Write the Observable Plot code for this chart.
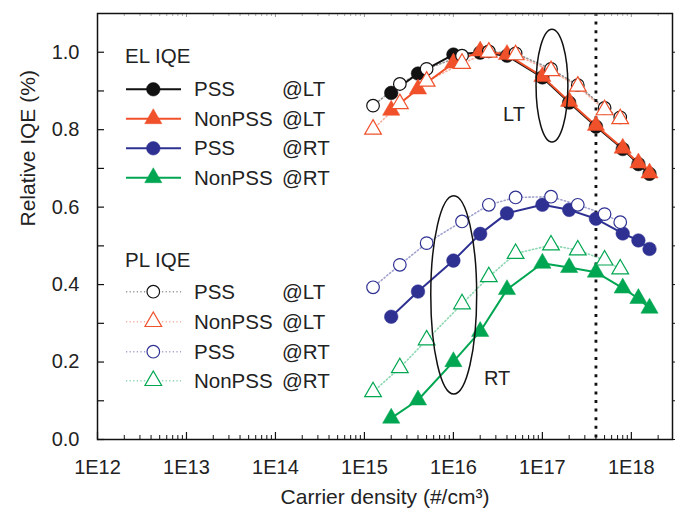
<!DOCTYPE html>
<html>
<head>
<meta charset="utf-8">
<script src="https://cdn.jsdelivr.net/npm/d3@7"></script>
<script src="https://cdn.jsdelivr.net/npm/@observablehq/plot@0.6"></script>
<style>
  html, body { margin: 0; padding: 0; background: #fff; }
  #wrap { position: relative; width: 681px; height: 511px; }
  #wrap svg { display: block; }
  #legend { position: absolute; left: 0; top: 0; pointer-events: none; }
</style>
</head>
<body>
<div id="wrap"></div>
<script>
// ---------- data ----------
const elX = [2e15, 4e15, 1e16, 2e16, 4e16, 1e17, 2e17, 4e17, 8e17, 1.2e18, 1.6e18];
const elPssLT = [0.895, 0.945, 0.994, 0.999, 0.991, 0.935, 0.870, 0.808, 0.750, 0.711, 0.686];
const elNonLT = [0.850, 0.905, 0.972, 1.003, 0.994, 0.937, 0.873, 0.811, 0.752, 0.714, 0.688];
const elPssRT = [0.317, 0.382, 0.462, 0.531, 0.584, 0.606, 0.593, 0.570, 0.532, 0.514, 0.492];
const elNonRT = [0.055, 0.102, 0.201, 0.279, 0.387, 0.455, 0.444, 0.432, 0.391, 0.364, 0.339];

const plX = [1.25e15, 2.5e15, 5e15, 1.25e16, 2.5e16, 5e16, 1.25e17, 2.5e17, 5e17, 7.5e17];
const plPssLT = [0.862, 0.918, 0.957, 0.991, 1.002, 0.997, 0.957, 0.915, 0.856, 0.832];
const plNonLT = [0.801, 0.867, 0.925, 0.971, 1.000, 0.993, 0.952, 0.912, 0.851, 0.828];
const plPssRT = [0.393, 0.451, 0.507, 0.563, 0.606, 0.625, 0.627, 0.606, 0.582, 0.561];
const plNonRT = [0.123, 0.185, 0.257, 0.350, 0.420, 0.480, 0.502, 0.489, 0.463, 0.440];

const xTickValues = [1e12, 1e13, 1e14, 1e15, 1e16, 1e17, 1e18];
const xTickLabels = ["1E12", "1E13", "1E14", "1E15", "1E16", "1E17", "1E18"];
const yTickValues = [0, 0.2, 0.4, 0.6, 0.8, 1.0];
const yTickLabels = ["0.0", "0.2", "0.4", "0.6", "0.8", "1.0"];
const yMinorValues = [0, 0.1, 0.2, 0.3, 0.4, 0.5, 0.6, 0.7, 0.8, 0.9, 1.0];

const seriesNames = ["PSS", "NonPSS", "PSS", "NonPSS"];
const seriesTemps = ["@LT", "@LT", "@RT", "@RT"];
const groupTitles = ["EL IQE", "PL IQE"];
const markerLine = 4e17;                    // vertical dotted reference line
const annotLabels = ["LT", "RT"];
const annotX = [4.8e16, 3.1e16];
const annotY = [0.839, 0.157];
// ellipse annotations: data-space extents
const ellX0 = [8.6e16, 5.64e15], ellX1 = [1.96e17, 1.85e16];
const ellY0 = [0.767, 0.116], ellY1 = [1.058, 0.628];

const xTitle = "Carrier density (#/cm³)";
const yTitle = "Relative IQE (%)";

// ---------- styles ----------
const colors = ["#111111", "#f0502a", "#2e3192", "#00a651"];
const symbols = ["circle", "triangle", "circle", "triangle"];
const elValues = [elPssLT, elNonLT, elPssRT, elNonRT];
const plValues = [plPssLT, plNonLT, plPssRT, plNonRT];

const W = 681, H = 511;
const mL = 97, mR = 9, mT = 13, mB = 72;
const FW = W - mL - mR, FH = H - mT - mB;
const rFilled = {circle: 6.8, triangle: 6.4};
const rOpen = {circle: 6.3, triangle: 6.2};

const rows = (xs, vals) => xs.map((x, i) => ({x, y: vals[i]}));

const xMinor = [];
for (const d of xTickValues) for (let k = 2; k <= 9; k++) if (d * k <= 2.9e18) xMinor.push(d * k);

const marks = [];
// PL dotted lines
plValues.forEach((v, s) => {
  marks.push(Plot.line(rows(plX, v), {x: "x", y: "y", stroke: colors[s], strokeWidth: 1.6,
    strokeOpacity: 0.45, strokeDasharray: "1.2,2.4"}));
});
// vertical dotted line
marks.push(Plot.ruleX([markerLine], {stroke: "#111", strokeWidth: 2.8, strokeDasharray: "3,5.6"}));
// EL solid lines
elValues.forEach((v, s) => {
  marks.push(Plot.line(rows(elX, v), {x: "x", y: "y", stroke: colors[s], strokeWidth: 2}));
});
// EL filled markers
elValues.forEach((v, s) => {
  marks.push(Plot.dot(rows(elX, v), {x: "x", y: "y", symbol: symbols[s], r: rFilled[symbols[s]],
    fill: colors[s], stroke: colors[s], strokeWidth: 0.5}));
});
// PL open markers
plValues.forEach((v, s) => {
  marks.push(Plot.dot(rows(plX, v), {x: "x", y: "y", symbol: symbols[s], r: rOpen[symbols[s]],
    fill: "white", stroke: colors[s], strokeWidth: 1.2}));
});
// ellipses
marks.push((index, scales) => {
  const g = d3.create("svg:g").attr("fill", "none").attr("stroke", "#111").attr("stroke-width", 1.5);
  ellX0.forEach((_, i) => {
    const a = scales.x(ellX0[i]), b = scales.x(ellX1[i]);
    const c = scales.y(ellY0[i]), d = scales.y(ellY1[i]);
    g.append("ellipse").attr("cx", (a + b) / 2).attr("cy", (c + d) / 2)
      .attr("rx", Math.abs(b - a) / 2).attr("ry", Math.abs(c - d) / 2);
  });
  return g.node();
});
// annotation text
marks.push(Plot.text(annotLabels.map((t, i) => ({t, x: annotX[i], y: annotY[i]})),
  {x: "x", y: "y", text: "t", fontSize: 20, fill: "#222"}));
// ticks
marks.push(Plot.tickX(xTickValues, {x: d => d, insetTop: FH - 7, stroke: "#111", strokeWidth: 1.2}));
marks.push(Plot.tickX(xMinor, {x: d => d, insetTop: FH - 4, stroke: "#111", strokeWidth: 1}));
marks.push(Plot.tickX(xTickValues, {x: d => d, insetBottom: FH - 4, stroke: "#999", strokeWidth: 1}));
marks.push(Plot.tickX(xMinor, {x: d => d, insetBottom: FH - 3, stroke: "#aaa", strokeWidth: 1}));
marks.push(Plot.tickY(yMinorValues, {y: d => d, insetRight: FW - 7, stroke: "#111", strokeWidth: 1.2}));
marks.push(Plot.tickY(yMinorValues, {y: d => d, insetLeft: FW, insetRight: -3, stroke: "#111", strokeWidth: 1}));
// frame
marks.push(Plot.frame({stroke: "#111", strokeWidth: 1.5}));
// axis titles
marks.push(Plot.text([xTitle], {frameAnchor: "bottom", text: d => d, dy: 64, fontSize: 21, fill: "#222"}));
marks.push(Plot.text([yTitle], {frameAnchor: "left", text: d => d, rotate: -90, dx: -69, fontSize: 21, fill: "#222"}));

const plot = Plot.plot({
  width: W, height: H,
  marginLeft: mL, marginRight: mR, marginTop: mT, marginBottom: mB,
  style: {fontFamily: "'Liberation Sans', Arial, sans-serif", fontSize: "20px", color: "#222", background: "white"},
  x: {type: "log", domain: [1e12, 2.9e18], ticks: xTickValues,
      tickFormat: d => xTickLabels[xTickValues.indexOf(d)], tickSize: 0, tickPadding: 20, label: null},
  y: {domain: [0, 1.1], ticks: yTickValues,
      tickFormat: d => yTickLabels[yTickValues.indexOf(d)], tickSize: 0, tickPadding: 18, label: null},
  marks
});
const wrap = document.getElementById("wrap");
wrap.appendChild(plot);

// ---------- legend overlay ----------
const leg = d3.select(wrap).append("svg").attr("id", "legend").attr("width", W).attr("height", H)
  .style("font-family", "'Liberation Sans', Arial, sans-serif").style("font-size", "20.5px");
const groupTop = [56, 260];
const rowY = [[89.3, 118.7, 148.3, 177.7], [291.7, 321.7, 351.7, 380.7]];
groupTitles.forEach((title, g) => {
  leg.append("text").attr("x", 125).attr("y", groupTop[g]).attr("dy", "0.35em").attr("fill", "#222").text(title);
  seriesNames.forEach((name, s) => {
    const y = rowY[g][s];
    const line = leg.append("line").attr("x1", 126).attr("x2", 181).attr("y1", y).attr("y2", y)
      .attr("stroke", colors[s]);
    if (g === 0) line.attr("stroke-width", 2);
    else line.attr("stroke-width", 1.6).attr("stroke-opacity", 0.45).attr("stroke-dasharray", "1.2,2.4");
    const sym = symbols[s] === "circle" ? d3.symbolCircle : d3.symbolTriangle;
    const r = g === 0 ? rFilled[symbols[s]] : rOpen[symbols[s]];
    leg.append("path").attr("d", d3.symbol(sym, Math.PI * r * r)())
      .attr("transform", `translate(153.3,${y})`)
      .attr("fill", g === 0 ? colors[s] : "white")
      .attr("stroke", colors[s]).attr("stroke-width", g === 0 ? 0.5 : 1.2);
    leg.append("text").attr("x", 194).attr("y", y).attr("dy", "0.35em").attr("fill", "#222").text(name);
    leg.append("text").attr("x", 282).attr("y", y).attr("dy", "0.35em").attr("fill", "#222").text(seriesTemps[s]);
  });
});
</script>
</body>
</html>
